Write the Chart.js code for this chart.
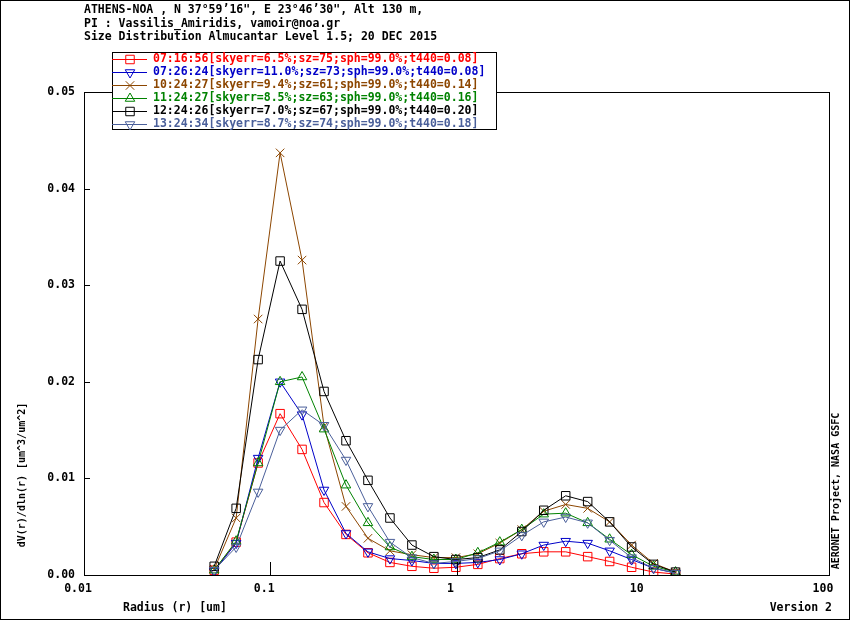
<!DOCTYPE html>
<html lang="en">
<head>
    <meta charset="UTF-8">
    <title>Size Distribution Almucantar - ATHENS-NOA</title>
    <script src="https://cdn.jsdelivr.net/npm/chart.js@4/dist/chart.umd.min.js"></script>
    <style>
        html, body { margin: 0; padding: 0; background: #fff; }
        #chart { display: block; }
    </style>
</head>
<body>
    <canvas id="chart" width="850" height="620"></canvas>

    <script>
        // radius bins [um]
        const radius = [0.05, 0.065604, 0.086077, 0.112939, 0.148184, 0.194429, 0.255105, 0.334716,
            0.439173, 0.576227, 0.756052, 0.991996, 1.301571, 1.707757, 2.240702, 2.939966,
            3.857452, 5.06126, 6.640745, 8.713145, 11.432287, 15.0];

        const xTickValues = [0.01, 0.1, 1, 10, 100];
        const xTickLabels = ['0.01', '0.1', '1', '10', '100'];
        const yTickLabels = ['0.00', '0.01', '0.02', '0.03', '0.04', '0.05'];

        const seriesNames = [
            '07:16:56[skyerr=6.5%;sz=75;sph=99.0%;t440=0.08]',
            '07:26:24[skyerr=11.0%;sz=73;sph=99.0%;t440=0.08]',
            '10:24:27[skyerr=9.4%;sz=61;sph=99.0%;t440=0.14]',
            '11:24:27[skyerr=8.5%;sz=63;sph=99.0%;t440=0.16]',
            '12:24:26[skyerr=7.0%;sz=67;sph=99.0%;t440=0.20]',
            '13:24:34[skyerr=8.7%;sz=74;sph=99.0%;t440=0.18]'
        ];

        // dV(r)/dln(r) values
        const s071656 = [0.0005, 0.0034, 0.0116, 0.0167, 0.0130, 0.0075, 0.0042, 0.0023, 0.0013, 0.0009, 0.0007,
            0.0008, 0.0011, 0.0017, 0.0022, 0.0024, 0.0024, 0.0019, 0.0014, 0.0008, 0.0003, 0.0001];
        const s072624 = [0.0004, 0.0033, 0.0121, 0.0200, 0.0166, 0.0088, 0.0043, 0.0024, 0.0017, 0.0015, 0.0012,
            0.0012, 0.0013, 0.0016, 0.0022, 0.0031, 0.0035, 0.0033, 0.0025, 0.0016, 0.0007, 0.0002];
        const s102427 = [0.0006, 0.0059, 0.0265, 0.0437, 0.0326, 0.0154, 0.0071, 0.0038, 0.0025, 0.0021, 0.0018,
            0.0018, 0.0022, 0.0033, 0.0047, 0.0066, 0.0073, 0.0069, 0.0055, 0.0031, 0.0012, 0.0003];
        const s112427 = [0.0005, 0.0035, 0.0116, 0.0200, 0.0205, 0.0151, 0.0093, 0.0054, 0.0029, 0.0019, 0.0016,
            0.0016, 0.0023, 0.0034, 0.0047, 0.0063, 0.0064, 0.0054, 0.0037, 0.0021, 0.0009, 0.0003];
        const s122426 = [0.0009, 0.0069, 0.0223, 0.0325, 0.0275, 0.0190, 0.0139, 0.0098, 0.0059, 0.0031, 0.0019,
            0.0016, 0.0018, 0.0026, 0.0045, 0.0067, 0.0082, 0.0076, 0.0055, 0.0029, 0.0011, 0.0003];
        const s132434 = [0.0005, 0.0029, 0.0086, 0.0150, 0.0171, 0.0155, 0.0119, 0.0071, 0.0034, 0.0018, 0.0012,
            0.0014, 0.0017, 0.0025, 0.0041, 0.0055, 0.0060, 0.0054, 0.0036, 0.0018, 0.0007, 0.0002];

        const seriesValues = [s071656, s072624, s102427, s112427, s122426, s132434];

        // styles
        const colors = ['#ff0000', '#0000c8', '#8c4600', '#008200', '#000000', '#4a5f9a'];
        const markers = [
            { style: 'rect', radius: 6, rotation: 0 },
            { style: 'triangle', radius: 5.5, rotation: 180 },
            { style: 'crossRot', radius: 6, rotation: 0 },
            { style: 'triangle', radius: 5.5, rotation: 0 },
            { style: 'rect', radius: 6, rotation: 0 },
            { style: 'triangle', radius: 5.5, rotation: 180 }
        ];

        const MONO = '"DejaVu Sans Mono", "Liberation Mono", monospace';

        const datasets = seriesValues.map((vals, k) => ({
            label: seriesNames[k],
            data: radius.map((r, i) => ({ x: r, y: vals[i] })),
            borderColor: colors[k],
            borderWidth: 1,
            tension: 0,
            fill: false,
            pointStyle: markers[k].style,
            pointRadius: markers[k].radius,
            pointRotation: markers[k].rotation,
            pointBorderColor: colors[k],
            pointBackgroundColor: 'rgba(0,0,0,0)',
            pointBorderWidth: 1,
            order: seriesValues.length - k
        }));

        function drawMarker(ctx, m, x, y) {
            if (Chart.helpers && Chart.helpers.drawPoint) {
                ctx.fillStyle = 'rgba(0,0,0,0)';
                Chart.helpers.drawPoint(ctx, { pointStyle: m.style, radius: m.radius, rotation: m.rotation, borderWidth: 1 }, x, y);
            }
        }

        const decorations = {
            id: 'decorations',
            afterDraw(chart) {
                const { ctx, chartArea: a, scales: { x, y } } = chart;
                ctx.save();
                ctx.strokeStyle = '#000';
                ctx.lineWidth = 1;

                // outer frame and plot frame
                ctx.strokeRect(0.5, 0.5, 849, 619);
                ctx.strokeRect(Math.round(a.left) + 0.5, Math.round(a.top) + 0.5,
                    Math.round(a.right - a.left), Math.round(a.bottom - a.top));

                // inward tick marks
                ctx.beginPath();
                x.ticks.forEach((t, i) => {
                    if (i === 0 || i === x.ticks.length - 1) return;
                    const px = Math.round(x.getPixelForValue(t.value)) + 0.5;
                    ctx.moveTo(px, a.bottom);
                    ctx.lineTo(px, a.bottom - 13);
                });
                y.ticks.forEach((t, i) => {
                    if (i === 0 || i === y.ticks.length - 1) return;
                    const py = Math.round(y.getPixelForValue(t.value)) + 0.5;
                    ctx.moveTo(a.left, py);
                    ctx.lineTo(a.left + 6, py);
                });
                ctx.stroke();

                // header
                ctx.fillStyle = '#000';
                ctx.font = 'bold 11.5px ' + MONO;
                ctx.textBaseline = 'middle';
                ctx.textAlign = 'left';
                ctx.fillText('ATHENS-NOA , N 37\u00b059\u201916", E 23\u00b046\u201930", Alt 130 m,', 84, 10);
                ctx.fillText('PI : Vassilis_Amiridis, vamoir@noa.gr', 84, 24);
                ctx.fillText('Size Distribution Almucantar Level 1.5; 20 DEC 2015', 84, 37);

                // axis titles
                ctx.fillText('Radius (r) [um]', 123, 608);
                ctx.textAlign = 'right';
                ctx.fillText('Version 2', 832, 608);

                ctx.font = 'bold 10px ' + MONO;
                ctx.textAlign = 'center';
                ctx.save();
                ctx.translate(22, 475);
                ctx.rotate(-Math.PI / 2);
                ctx.fillText('dV(r)/dln(r) [um^3/um^2]', 0, 0);
                ctx.restore();
                ctx.save();
                ctx.translate(836, 491);
                ctx.rotate(-Math.PI / 2);
                ctx.fillText('AERONET Project, NASA GSFC', 0, 0);
                ctx.restore();

                // legend box
                ctx.fillStyle = '#fff';
                ctx.fillRect(112, 52, 385, 78);
                ctx.strokeStyle = '#000';
                ctx.strokeRect(112.5, 52.5, 384, 77);
                ctx.font = 'bold 11.5px ' + MONO;
                ctx.textAlign = 'left';
                seriesNames.forEach((name, k) => {
                    const ly = 59 + k * 13;
                    ctx.strokeStyle = colors[k];
                    ctx.beginPath();
                    ctx.moveTo(112, Math.round(ly) + 0.5);
                    ctx.lineTo(147, Math.round(ly) + 0.5);
                    ctx.stroke();
                    drawMarker(ctx, markers[k], 130, Math.round(ly) + 0.5);
                    ctx.fillStyle = colors[k];
                    ctx.fillText(name, 153, ly + 0.5);
                });
                ctx.restore();
            }
        };

        new Chart(document.getElementById('chart'), {
            type: 'line',
            data: { datasets: datasets },
            plugins: [decorations],
            options: {
                responsive: false,
                devicePixelRatio: 1,
                animation: false,
                layout: { padding: { left: 0, top: 92, right: 21, bottom: 0 } },
                plugins: {
                    legend: { display: false },
                    title: { display: false },
                    tooltip: { enabled: false }
                },
                scales: {
                    x: {
                        type: 'logarithmic',
                        min: 0.01,
                        max: 100,
                        afterBuildTicks: s => { s.ticks = xTickValues.map(v => ({ value: v })); },
                        afterFit: s => { s.height = 45; },
                        grid: { display: false, drawTicks: false },
                        border: { display: false },
                        ticks: {
                            autoSkip: false,
                            maxRotation: 0,
                            padding: 7,
                            labelOffset: -6,
                            color: '#000',
                            font: { family: MONO, size: 11.5, weight: 'bold' },
                            callback: (v, i) => xTickLabels[i]
                        }
                    },
                    y: {
                        type: 'linear',
                        min: 0,
                        max: 0.05,
                        afterBuildTicks: s => { s.ticks = yTickLabels.map(l => ({ value: parseFloat(l) })); },
                        afterFit: s => { s.width = 84; },
                        grid: { display: false, drawTicks: false },
                        border: { display: false },
                        ticks: {
                            padding: 9,
                            color: '#000',
                            font: { family: MONO, size: 11.5, weight: 'bold' },
                            callback: (v, i) => yTickLabels[i]
                        }
                    }
                }
            }
        });
    </script>
</body>
</html>
